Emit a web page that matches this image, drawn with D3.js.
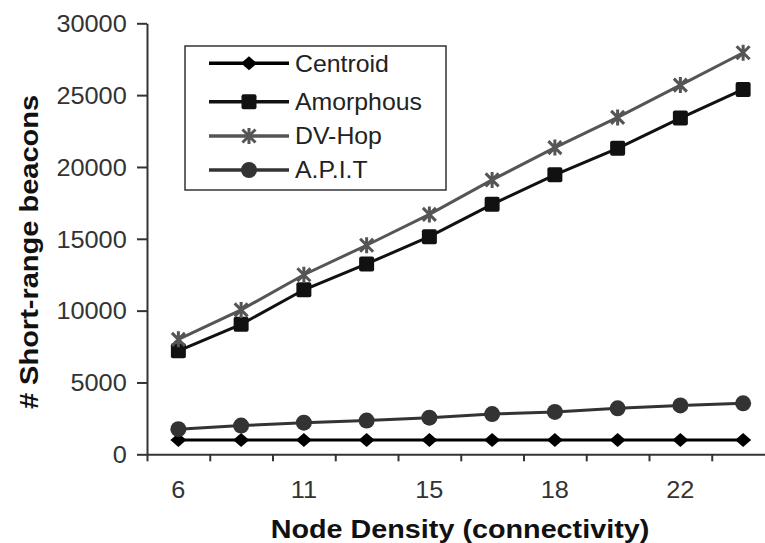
<!DOCTYPE html>
<html>
<head>
<meta charset="utf-8">
<script src="https://cdn.jsdelivr.net/npm/d3@7"></script>
<style>
  html, body { margin: 0; padding: 0; background: #fff; }
  svg { display: block; }
  text { font-family: "Liberation Sans", Arial, Helvetica, sans-serif; }
</style>
</head>
<body>
<svg id="chart" width="765" height="543"></svg>
<script>
// Node density categories (only every other one carries a label)
const xLabels = ["6", "", "11", "", "15", "", "18", "", "22", ""];
const yTicks = [0, 5000, 10000, 15000, 20000, 25000, 30000];
const seriesNames = ["Centroid", "Amorphous", "DV-Hop", "A.P.I.T"];

// Number of short-range beacons per scheme
const centroid  = [1000, 1000, 1000, 1000, 1000, 1000, 1000, 1000, 1000, 1000];
const amorphous = [7200, 9050, 11450, 13250, 15150, 17400, 19450, 21300, 23400, 25400];
const dvHop     = [8000, 10050, 12500, 14550, 16700, 19100, 21350, 23450, 25700, 27950];
const apit      = [1750, 2000, 2200, 2350, 2550, 2800, 2950, 3200, 3400, 3550];

const svg = d3.select("#chart");

const plot = { left: 147, right: 774.5, top: 23.3, bottom: 454.3 };

const x = d3.scaleBand().domain(d3.range(xLabels.length)).range([plot.left, plot.right]);
const xEdge = d3.scaleLinear().domain([0, xLabels.length]).range([plot.left, plot.right]);
const y = d3.scaleLinear().domain([0, 30000]).range([plot.bottom, plot.top]);
const cx = i => x(i) + x.bandwidth() / 2;

// ---- marker shapes ----
function drawMarker(g, kind, color) {
  if (kind === "diamond") {
    g.append("path").attr("d", "M0,-7 L8,0 L0,7 L-8,0 Z").attr("fill", color);
  } else if (kind === "square") {
    g.append("rect").attr("x", -7.5).attr("y", -7.5).attr("width", 15).attr("height", 15)
      .attr("rx", 2).attr("fill", color);
  } else if (kind === "star") {
    g.append("path").attr("d", "M-6.5,-6.5 L6.5,6.5 M-6.5,6.5 L6.5,-6.5 M0,-8 L0,8")
      .attr("stroke", color).attr("stroke-width", 3).attr("fill", "none");
  } else if (kind === "circle") {
    g.append("circle").attr("r", 8).attr("fill", color);
  }
}

const series = [
  { name: seriesNames[0], values: centroid,  color: "#000000", marker: "diamond" },
  { name: seriesNames[1], values: amorphous, color: "#111111", marker: "square" },
  { name: seriesNames[2], values: dvHop,     color: "#555555", marker: "star" },
  { name: seriesNames[3], values: apit,      color: "#333333", marker: "circle" }
];

// ---- axes ----
const axisColor = "#333";

const yAxis = svg.append("g")
  .attr("transform", `translate(${plot.left},0)`)
  .call(d3.axisLeft(y).tickValues(yTicks).tickFormat(d3.format("d"))
    .tickSize(10).tickSizeOuter(0).tickPadding(0));
yAxis.select(".domain").attr("stroke", axisColor).attr("stroke-width", 2);
yAxis.selectAll(".tick line").attr("stroke", axisColor).attr("stroke-width", 2);
yAxis.selectAll(".tick text")
  .attr("font-size", 23).attr("fill", "#333")
  .attr("x", -20.3 / 1.1).attr("dy", "0.36em")
  .attr("transform", "scale(1.1,1)");

const xTicks = svg.append("g")
  .attr("transform", `translate(0,${plot.bottom})`)
  .call(d3.axisBottom(xEdge).tickValues(d3.range(xLabels.length + 1)).tickSize(7).tickSizeOuter(0).tickFormat(""));
xTicks.select(".domain").attr("stroke", axisColor).attr("stroke-width", 2);
xTicks.selectAll(".tick line").attr("stroke", axisColor).attr("stroke-width", 2);

const xText = svg.append("g")
  .attr("transform", `translate(0,${plot.bottom})`)
  .call(d3.axisBottom(x).tickSize(0).tickPadding(27.5).tickFormat(i => xLabels[i]));
xText.select(".domain").remove();
xText.selectAll(".tick text")
  .attr("font-size", 23).attr("fill", "#333")
  .attr("transform", "scale(1.1,1)");

// ---- axis titles ----
svg.append("text")
  .attr("transform", "translate(460,538) scale(1.15,1)")
  .attr("text-anchor", "middle").attr("font-size", 25).attr("font-weight", "bold")
  .attr("fill", "#111")
  .text("Node Density (connectivity)");

svg.append("text")
  .attr("transform", "translate(38,252) rotate(-90) scale(1.16,1)")
  .attr("text-anchor", "middle").attr("font-size", 25).attr("font-weight", "bold")
  .attr("fill", "#111")
  .text("# Short-range beacons");

// ---- series lines and markers ----
const line = d3.line().x((d, i) => cx(i)).y(d => y(d));

series.forEach(s => {
  const g = svg.append("g");
  g.append("path").datum(s.values)
    .attr("d", line).attr("fill", "none")
    .attr("stroke", s.color).attr("stroke-width", 3);
  g.selectAll("g.pt").data(s.values).join("g")
    .attr("class", "pt")
    .attr("transform", (d, i) => `translate(${cx(i)},${y(d)})`)
    .each(function () { drawMarker(d3.select(this), s.marker, s.color); });
});

// ---- legend ----
const legend = svg.append("g");
legend.append("rect")
  .attr("x", 185).attr("y", 46).attr("width", 261).attr("height", 144)
  .attr("fill", "#fff").attr("stroke", "#333").attr("stroke-width", 1.5);

const legendRows = [63.3, 101.7, 136, 170];
series.forEach((s, k) => {
  const row = legend.append("g").attr("transform", `translate(0,${legendRows[k]})`);
  row.append("line").attr("x1", 209).attr("x2", 289).attr("y1", 0).attr("y2", 0)
    .attr("stroke", s.color).attr("stroke-width", 3.5);
  drawMarker(row.append("g").attr("transform", "translate(249,0)"), s.marker, s.color);
  row.append("text")
    .attr("transform", "translate(295,0) scale(1.08,1)")
    .attr("dy", "0.36em")
    .attr("font-size", 23).attr("fill", "#222")
    .text(s.name);
});
</script>
</body>
</html>
